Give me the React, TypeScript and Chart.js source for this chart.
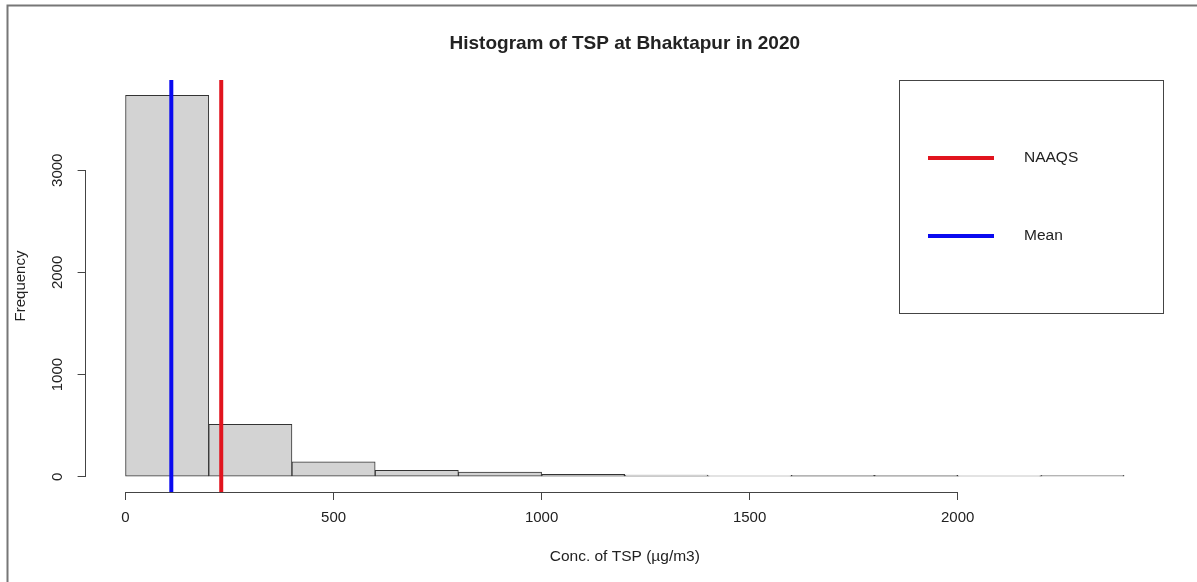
import React, { useEffect, useRef } from "react";
import { Chart, registerables } from "chart.js";

Chart.register(...registerables);

// ---- data ----
const binStarts = [0, 200, 400, 600, 800, 1000, 1200, 1400, 1600, 1800, 2000, 2200];
const binWidth = 200;
const frequencies = [3734, 513, 145, 62, 45, 24, 16, 2, 15, 15, 1, 13];
const xTicks = [0, 500, 1000, 1500, 2000];
const yTicks = [0, 1000, 2000, 3000];
const naaqsValue = 230;
const meanValue = 110;
const legendLabels = ["NAAQS", "Mean"];
const titleText = "Histogram of TSP at Bhaktapur in 2020";
const xTitleText = "Conc. of TSP (\u00b5g/m3)";
const yTitleText = "Frequency";

// ---- styles ----
const FONT = "'Liberation Sans', Arial, Helvetica, sans-serif";
const TEXT = "#222";
const AXIS = "#444";
const RED = "rgb(225,20,30)";
const BLUE = "rgb(10,10,240)";
const BAR_FILL = "#D3D3D3";
const BAR_EDGE = "#333";

export default function App() {
  const ref = useRef<HTMLCanvasElement | null>(null);

  useEffect(() => {
    if (!ref.current) return;
    const xMinData = binStarts[0];
    const xMaxData = binStarts[binStarts.length - 1] + binWidth;
    const xPad = 0.04 * (xMaxData - xMinData);
    const yMaxData = Math.max(...frequencies);
    const yPad = 0.04 * yMaxData;
    const yLo = -yPad;
    const yHi = yMaxData + yPad;

    const rPlot = {
      id: "rPlot",
      afterDraw(chart: any) {
        const { ctx, chartArea, scales } = chart;
        const xs = scales.x;
        const ys = scales.y;
        ctx.save();
        // outer frame (top and left)
        ctx.strokeStyle = "#777";
        ctx.lineWidth = 2;
        ctx.beginPath();
        ctx.moveTo(7.5, chart.height);
        ctx.lineTo(7.5, 5.5);
        ctx.lineTo(chart.width, 5.5);
        ctx.stroke();

        // axis lines spanning first..last tick
        ctx.strokeStyle = AXIS;
        ctx.lineWidth = 1;
        ctx.beginPath();
        const yb = Math.round(chartArea.bottom) + 0.5;
        ctx.moveTo(xs.getPixelForValue(xTicks[0]), yb);
        ctx.lineTo(xs.getPixelForValue(xTicks[xTicks.length - 1]), yb);
        const xl = Math.round(chartArea.left) - 0.5;
        ctx.moveTo(xl, ys.getPixelForValue(yTicks[0]));
        ctx.lineTo(xl, ys.getPixelForValue(yTicks[yTicks.length - 1]));
        ctx.stroke();

        // rotated y tick labels
        ctx.fillStyle = TEXT;
        ctx.font = `15px ${FONT}`;
        ctx.textAlign = "center";
        ctx.textBaseline = "middle";
        for (const v of yTicks) {
          ctx.save();
          ctx.translate(chartArea.left - 28, ys.getPixelForValue(v));
          ctx.rotate(-Math.PI / 2);
          ctx.fillText(String(v), 0, 0);
          ctx.restore();
        }

        // legend box
        const lw = 265;
        const lh = 233;
        const lx = chartArea.right - lw;
        const ly = chartArea.top;
        ctx.strokeStyle = AXIS;
        ctx.lineWidth = 1;
        ctx.strokeRect(Math.round(lx) + 0.5, Math.round(ly) + 0.5, lw - 1, lh);
        const colors = [RED, BLUE];
        ctx.font = `15.5px ${FONT}`;
        legendLabels.forEach((lab, i) => {
          const yy = ly + 78 + i * 78;
          ctx.strokeStyle = colors[i];
          ctx.lineWidth = 4;
          ctx.beginPath();
          ctx.moveTo(lx + 29, yy);
          ctx.lineTo(lx + 95, yy);
          ctx.stroke();
          ctx.fillStyle = TEXT;
          ctx.textAlign = "left";
          ctx.textBaseline = "middle";
          ctx.fillText(lab, lx + 125, yy);
        });
        ctx.restore();
      },
    };

    const chart = new Chart(ref.current, {
      type: "bar",
      data: {
        datasets: [
          {
            type: "line",
            label: legendLabels[0],
            data: [
              { x: naaqsValue, y: yLo },
              { x: naaqsValue, y: yHi },
            ],
            borderColor: RED,
            borderWidth: 4,
            pointRadius: 0,
            order: 0,
          } as any,
          {
            type: "line",
            label: legendLabels[1],
            data: [
              { x: meanValue, y: yLo },
              { x: meanValue, y: yHi },
            ],
            borderColor: BLUE,
            borderWidth: 4,
            pointRadius: 0,
            order: 0,
          } as any,
          {
            type: "bar",
            label: "Frequency",
            data: binStarts.map((s, i) => ({ x: s + binWidth / 2, y: frequencies[i] })),
            backgroundColor: BAR_FILL,
            borderColor: BAR_EDGE,
            borderWidth: 1,
            borderSkipped: false,
            barPercentage: 1,
            categoryPercentage: 1,
            minBarLength: 1,
            order: 2,
          } as any,
        ],
      },
      options: {
        responsive: false,
        animation: false,
        layout: { padding: { left: 0, right: 33, top: 0, bottom: 0 } },
        plugins: {
          legend: { display: false },
          tooltip: { enabled: false },
          title: {
            display: true,
            text: titleText,
            fullSize: false,
            color: TEXT,
            font: { family: FONT, size: 19, weight: "bold", lineHeight: 1.2 },
            padding: { top: 32.6, bottom: 24.6 },
          } as any,
        },
        scales: {
          x: {
            type: "linear",
            offset: false,
            min: xMinData - xPad,
            max: xMaxData + xPad,
            afterBuildTicks: (s: any) => {
              s.ticks = xTicks.map((v) => ({ value: v }));
            },
            afterFit: (s: any) => {
              s.height = 90;
            },
            grid: { display: true, offset: false, drawOnChartArea: false, drawTicks: true, tickLength: 8, color: AXIS },
            border: { display: false },
            ticks: {
              padding: 9,
              color: TEXT,
              font: { family: FONT, size: 15 },
              maxRotation: 0,
              minRotation: 0,
              callback: (v: any) => String(v),
            },
            title: {
              display: true,
              text: xTitleText,
              color: TEXT,
              font: { family: FONT, size: 15.5, lineHeight: 1.2 },
              padding: { top: 0, bottom: 16 },
            },
          },
          y: {
            type: "linear",
            min: yLo,
            max: yHi,
            afterBuildTicks: (s: any) => {
              s.ticks = yTicks.map((v) => ({ value: v }));
            },
            afterFit: (s: any) => {
              s.width = 85.6;
            },
            grid: { display: true, drawOnChartArea: false, drawTicks: true, tickLength: 8, color: AXIS },
            border: { display: false },
            ticks: { display: false },
            title: {
              display: true,
              text: yTitleText,
              color: TEXT,
              font: { family: FONT, size: 15, lineHeight: 1.2 },
              padding: { top: 12, bottom: 0 },
            },
          },
        },
      } as any,
      plugins: [rPlot],
    });
    return () => chart.destroy();
  }, []);

  return (
    <div style={{ position: "fixed", left: 0, top: 0, width: 1197, height: 582, background: "#fff" }}>
      <canvas ref={ref} width={1197} height={582} style={{ display: "block" }} />
    </div>
  );
}
